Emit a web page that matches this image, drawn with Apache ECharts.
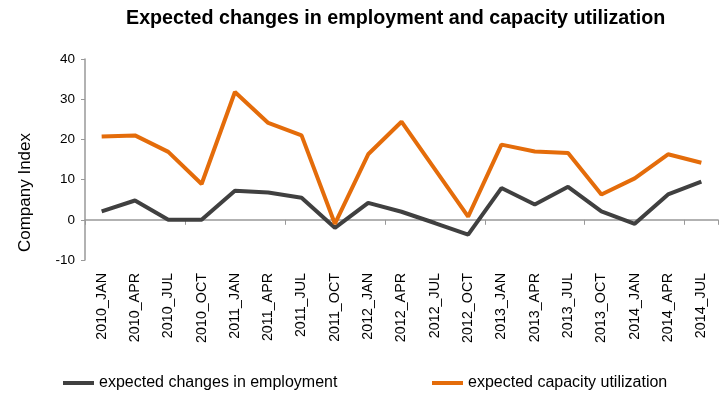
<!DOCTYPE html>
<html>
<head>
<meta charset="utf-8">
<script src="https://cdn.jsdelivr.net/npm/echarts@6/dist/echarts.min.js"></script>
<style>html,body{margin:0;padding:0;background:#fff}#c{width:725px;height:395px}</style>
</head>
<body>
<div id="c"></div>
<script>
const categories = ["2010_JAN","2010_APR","2010_JUL","2010_OCT","2011_JAN","2011_APR","2011_JUL","2011_OCT","2012_JAN","2012_APR","2012_JUL","2012_OCT","2013_JAN","2013_APR","2013_JUL","2013_OCT","2014_JAN","2014_APR","2014_JUL"];
const employment = [2.1, 4.8, 0, 0, 7.2, 6.8, 5.5, -2.0, 4.2, 2.0, -0.8, -3.7, 7.9, 3.8, 8.2, 2.1, -1.0, 6.3, 9.5];
const capacity = [20.7, 21.0, 16.9, 8.9, 31.8, 24.1, 21.0, -1.0, 16.3, 24.4, 12.6, 0.8, 18.7, 17.0, 16.6, 6.3, 10.3, 16.3, 14.2];
const yTicks = { min: -10, max: 40, interval: 10 };
const seriesNames = ["expected changes in employment", "expected capacity utilization"];
const titleText = "Expected changes in employment and capacity utilization";
const yName = "Company Index";

const FONT = "Liberation Sans, Arial, sans-serif";
const legendText = {fontFamily: FONT, fontSize: 16, color: '#000'};
const chart = echarts.init(document.getElementById('c'), null, {renderer: 'canvas'});
chart.setOption({
  animation: false,
  title: {
    text: titleText, left: 121, top: 4,
    textStyle: {fontFamily: FONT, fontSize: 19.7, fontWeight: 'bold', color: '#000'}
  },
  legend: [{
    top: 370, left: 58, itemWidth: 31, itemHeight: 4, icon: 'rect',
    textStyle: legendText, data: [seriesNames[0]]
  }, {
    top: 370, left: 427, itemWidth: 31, itemHeight: 4, icon: 'rect',
    textStyle: legendText, data: [seriesNames[1]]
  }],
  grid: {left: 85, right: 7, top: 59, bottom: 135},
  graphic: [{
    type: 'text', left: 17, top: 133,
    rotation: Math.PI / 2,
    style: {text: yName, fontFamily: FONT, fontSize: 17, fill: '#000'}
  }],
  xAxis: [{
    type: 'category', data: categories, boundaryGap: true, position: 'bottom',
    axisLine: {onZero: true, lineStyle: {color: '#999', width: 1.5}},
    axisTick: {show: true, length: 5, alignWithLabel: false, lineStyle: {color: '#999'}},
    axisLabel: {show: false}
  }, {
    type: 'category', data: categories, boundaryGap: true, position: 'bottom',
    axisLine: {show: false, onZero: false}, axisTick: {show: false},
    axisLabel: {rotate: 90, margin: 13, interval: 0, fontFamily: FONT, fontSize: 14.3, color: '#000'}
  }],
  yAxis: {
    type: 'value', min: yTicks.min, max: yTicks.max, interval: yTicks.interval,
    splitLine: {show: false},
    axisLine: {show: true, lineStyle: {color: '#999', width: 1.5}},
    axisTick: {show: true, length: 4, lineStyle: {color: '#999'}},
    axisLabel: {margin: 10, fontFamily: FONT, fontSize: 13.5, color: '#000'}
  },
  series: [{
    name: seriesNames[0], type: 'line', data: employment, xAxisIndex: 0,
    symbol: 'none', lineStyle: {width: 4, color: '#404040'}, itemStyle: {color: '#404040'}
  }, {
    name: seriesNames[1], type: 'line', data: capacity, xAxisIndex: 0,
    symbol: 'none', lineStyle: {width: 4, color: '#E46C0A'}, itemStyle: {color: '#E46C0A'}
  }]
});
</script>
</body>
</html>
